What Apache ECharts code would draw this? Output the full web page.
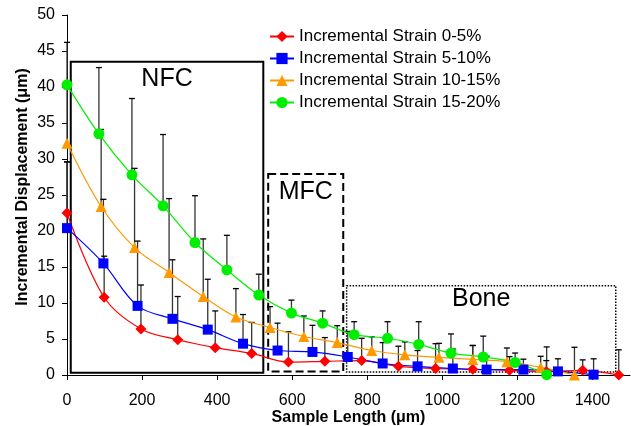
<!DOCTYPE html>
<html>
<head>
<meta charset="utf-8">
<style>
  html, body { margin: 0; padding: 0; background: #fff; }
  #chart { width: 631px; height: 426px; }
</style>
<script src="https://cdn.jsdelivr.net/npm/echarts@6/dist/echarts.min.js"></script>
</head>
<body>
<div id="chart"></div>
<script>
// sample length (um) and incremental displacement (um)
const seriesNames = ['Incremental Strain 0-5%', 'Incremental Strain 5-10%', 'Incremental Strain 10-15%', 'Incremental Strain 15-20%'];

const redX = [0, 99, 197, 295, 395, 492, 590, 687, 785, 883, 982, 1081, 1179, 1277, 1374, 1470];
const redY = [22.5, 10.8, 6.4, 4.9, 3.8, 3.0, 1.8, 1.9, 2.0, 1.2, 0.9, 0.8, 0.65, 0.5, 0.65, 0.0];
const redErr = [7.1, 5.7, 6.1, 6.0, 5.1, 4.3, 4.2, 3.3, 3.1, 2.8, 3.45, 3.3, 1.9, 1.5, 1.45, 3.5];

const blueX = [0, 97, 188, 281, 375, 469, 561, 654, 748, 841, 934, 1028, 1118, 1216, 1308, 1403];
const blueY = [20.4, 15.5, 9.6, 7.8, 6.3, 4.35, 3.4, 3.2, 2.5, 1.6, 1.2, 0.9, 0.75, 0.75, 0.5, 0.05];
const blueErr = [9.2, 8.9, 9.0, 8.2, 7.0, 4.05, 3.8, 3.7, 3.55, 2.9, 2.2, 2.7, 1.85, 1.45, 1.75, 2.2];

const orangeX = [0, 91, 180, 272, 363, 450, 541, 631, 720, 812, 900, 991, 1081, 1172, 1262, 1352];
const orangeY = [32.2, 23.4, 17.7, 14.25, 10.9, 8.05, 6.6, 5.35, 4.5, 3.4, 2.8, 2.45, 2.17, 1.85, 1.05, 0.0];
const orangeErr = [8.0, 10.7, 11.0, 10.25, 8.0, 3.95, 2.9, 2.85, 2.35, 1.9, 1.8, 1.95, 1.93, 1.9, 1.55, 3.85];

const greenX = [0, 85, 173, 256, 341, 426, 511, 598, 681, 765, 854, 937, 1023, 1109, 1194, 1278];
const greenY = [40.3, 33.5, 27.8, 23.5, 18.4, 14.6, 11.1, 8.6, 7.2, 5.6, 5.1, 4.25, 3.05, 2.5, 1.75, 0.05];
const greenErr = [5.9, 9.2, 10.6, 9.9, 6.5, 4.8, 2.9, 1.8, 1.7, 1.8, 2.3, 3.15, 2.65, 2.9, 1.3, 3.85];

// tissue zones (x range, y range in axis units)
const zoneNames = ['NFC', 'MFC', 'Bone'];
const zoneX = [[10, 523], [536, 736], [745, 1462]];
const zoneY = [[0.3, 43.5], [0.5, 27.9], [0.4, 12.4]];

const FONT = '"Liberation Sans", Arial, sans-serif';

const pairs = (xs, ys) => xs.map((x, i) => [x, ys[i]]);
const bars = (xs, ys, es) => xs.map((x, i) => [x, ys[i], ys[i] + es[i]]);

const errorData = [].concat(
  bars(greenX, greenY, greenErr),
  bars(orangeX, orangeY, orangeErr),
  bars(blueX, blueY, blueErr),
  bars(redX, redY, redErr)
);

function renderErrorBar(params, api) {
  const p0 = api.coord([api.value(0), api.value(1)]);
  const p1 = api.coord([api.value(0), api.value(2)]);
  const cap = 3;
  return {
    type: 'group',
    children: [
      { type: 'line', shape: { x1: p0[0], y1: p0[1], x2: p1[0], y2: p1[1] }, style: { stroke: '#333', lineWidth: 1.3 } },
      { type: 'line', shape: { x1: p1[0] - cap, y1: p1[1], x2: p1[0] + cap, y2: p1[1] }, style: { stroke: '#000', lineWidth: 1.3 } }
    ]
  };
}

const zoneStyles = [
  { borderType: 'solid', borderWidth: 2, distance: 6 },
  { borderType: 'dashed', borderWidth: 2, distance: 6 },
  { borderType: 'dotted', borderWidth: 1.5, distance: 2 }
];

const zoneAreas = zoneNames.map((name, i) => [
  {
    name: name,
    xAxis: zoneX[i][0],
    yAxis: zoneY[i][1],
    itemStyle: {
      color: 'rgba(0,0,0,0)',
      borderColor: '#000',
      borderWidth: zoneStyles[i].borderWidth,
      borderType: zoneStyles[i].borderType
    },
    label: { distance: zoneStyles[i].distance }
  },
  { xAxis: zoneX[i][1], yAxis: zoneY[i][0] }
]);

const lineSeries = (name, data, color, symbol, size) => ({
  name: name,
  type: 'line',
  data: data,
  smooth: 0.35,
  symbol: symbol,
  symbolSize: size,
  clip: false,
  z: 5,
  itemStyle: { color: color },
  lineStyle: { color: color, width: 1.2 }
});

const chart = echarts.init(document.getElementById('chart'));
chart.setOption({
  animation: false,
  backgroundColor: '#fff',
  textStyle: { fontFamily: FONT },
  grid: { left: 67, right: 1, top: 15, bottom: 51, containLabel: false, outerBoundsMode: 'none' },
  legend: {
    data: seriesNames,
    orient: 'vertical',
    left: 264,
    top: 23,
    itemWidth: 24,
    itemHeight: 14,
    itemGap: 5,
    textStyle: { fontFamily: FONT, fontSize: 17, color: '#000' }
  },
  xAxis: {
    type: 'value',
    min: 0,
    max: 1500,
    interval: 200,
    name: 'Sample Length (μm)',
    nameLocation: 'middle',
    nameGap: 35,
    nameMoveOverlap: false,
    nameTextStyle: { fontFamily: FONT, fontSize: 16, fontWeight: 'bold', color: '#000' },
    axisLine: { lineStyle: { color: '#000', width: 1 } },
    axisTick: { inside: false, length: 5, lineStyle: { color: '#000' } },
    axisLabel: { fontFamily: FONT, fontSize: 16, color: '#000', margin: 18, showMaxLabel: false, formatter: v => String(v) },
    splitLine: { show: false }
  },
  yAxis: {
    type: 'value',
    min: 0,
    max: 50,
    interval: 5,
    name: 'Incremental Displacement (μm)',
    nameLocation: 'middle',
    nameGap: 36,
    nameMoveOverlap: false,
    nameTextStyle: { fontFamily: FONT, fontSize: 16, fontWeight: 'bold', color: '#000', padding: [0, 0, 0, 16] },
    axisLine: { show: true, lineStyle: { color: '#000', width: 1 } },
    axisTick: { show: true, inside: false, length: 5, lineStyle: { color: '#000' } },
    axisLabel: { fontFamily: FONT, fontSize: 16, color: '#000', margin: 12 },
    splitLine: { show: false }
  },
  series: [
    {
      name: 'zones',
      type: 'line',
      data: [],
      markArea: {
        silent: true,
        label: { show: true, position: 'insideTop', fontFamily: FONT, fontSize: 25, color: '#000' },
        data: zoneAreas
      }
    },
    {
      name: 'error',
      type: 'custom',
      renderItem: renderErrorBar,
      data: errorData,
      encode: { x: 0, y: [1, 2] },
      clip: false,
      z: 3
    },
    lineSeries(seriesNames[0], pairs(redX, redY), '#ff0000', 'diamond', 11),
    lineSeries(seriesNames[1], pairs(blueX, blueY), '#0000ff', 'rect', 10),
    lineSeries(seriesNames[2], pairs(orangeX, orangeY), '#ff9900', 'triangle', 11),
    lineSeries(seriesNames[3], pairs(greenX, greenY), '#00ee00', 'circle', 11)
  ]
});
</script>
</body>
</html>
